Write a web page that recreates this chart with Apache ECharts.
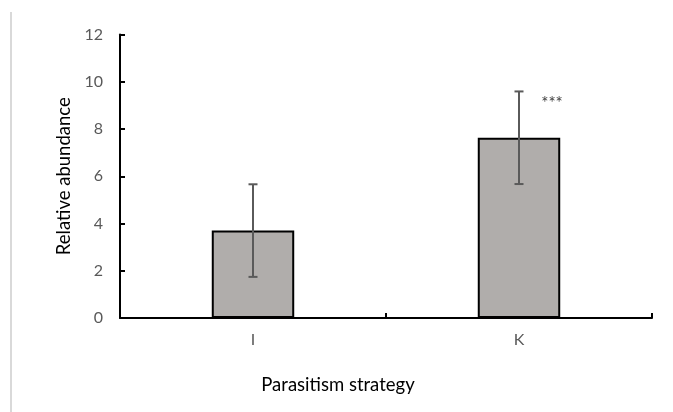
<!DOCTYPE html>
<html>
<head>
<meta charset="utf-8">
<script src="https://cdn.jsdelivr.net/npm/echarts@6/dist/echarts.min.js"></script>
<style>
html,body{margin:0;padding:0;background:#fff;}
#chart{width:673px;height:412px;}
</style>
</head>
<body>
<div id="chart"></div>
<script>
var categories = ['I', 'K'];
var means = [3.7, 7.63];
var errors = [1.96, 1.96];
var significance = ['', '***'];
var yTicks = [0, 2, 4, 6, 8, 10, 12];

var chart = echarts.init(document.getElementById('chart'), null, {renderer: 'canvas'});
var FONT = 'Lato, "Open Sans", sans-serif';

var errData = categories.map(function (c, i) { return [i, means[i], errors[i], significance[i]]; });

var option = {
  animation: false,
  backgroundColor: '#ffffff',
  grid: {left: 120, right: 21, top: 34.5, bottom: 94, containLabel: false},
  graphic: [{
    type: 'line',
    shape: {x1: 11, y1: 12, x2: 11, y2: 412},
    style: {stroke: '#d9d9d9', lineWidth: 2}
  }],
  xAxis: {
    type: 'category',
    data: categories,
    boundaryGap: true,
    name: 'Parasitism strategy',
    nameLocation: 'middle',
    nameGap: 58,
    nameTextStyle: {fontFamily: FONT, fontSize: 18.5, color: '#000000', padding: [0, 96, 0, 0]},
    axisLine: {show: true, lineStyle: {color: '#000000', width: 2}},
    axisTick: {show: true, inside: true, length: 5, lineStyle: {color: '#000000', width: 2}},
    axisLabel: {fontFamily: FONT, fontSize: 16, color: '#595959', margin: 14}
  },
  yAxis: {
    type: 'value',
    min: yTicks[0],
    max: yTicks[yTicks.length - 1],
    interval: 2,
    name: 'Relative abundance',
    nameLocation: 'middle',
    nameRotate: 90,
    nameGap: 42,
    nameTextStyle: {fontFamily: FONT, fontSize: 18.5, color: '#000000'},
    axisLine: {show: true, lineStyle: {color: '#000000', width: 2}},
    axisTick: {show: true, inside: true, length: 5, lineStyle: {color: '#000000', width: 2}},
    axisLabel: {fontFamily: FONT, fontSize: 16, color: '#595959', margin: 17},
    splitLine: {show: false}
  },
  series: [{
    type: 'bar',
    data: means,
    barWidth: '31%',
    itemStyle: {color: '#b0adab', borderColor: '#000000', borderWidth: 2},
    z: 2
  }, {
    type: 'custom',
    data: errData,
    z: 5,
    renderItem: function (params, api) {
      var idx = api.value(0);
      var m = api.value(1);
      var e = api.value(2);
      var sig = significance[params.dataIndex];
      var top = api.coord([idx, m + e]);
      var bot = api.coord([idx, m - e]);
      var cap = 4.5;
      var st = {stroke: '#5a5a5a', lineWidth: 2};
      var children = [
        {type: 'line', shape: {x1: top[0], y1: top[1], x2: bot[0], y2: bot[1]}, style: st},
        {type: 'line', shape: {x1: top[0] - cap, y1: top[1], x2: top[0] + cap, y2: top[1]}, style: st},
        {type: 'line', shape: {x1: bot[0] - cap, y1: bot[1], x2: bot[0] + cap, y2: bot[1]}, style: st}
      ];
      if (sig) {
        children.push({
          type: 'text',
          style: {x: top[0] + 33, y: top[1] + 12, text: sig, fill: '#404040',
                  font: '17px ' + FONT, textAlign: 'center', textVerticalAlign: 'middle'}
        });
      }
      return {type: 'group', children: children};
    }
  }]
};
chart.setOption(option);
</script>
</body>
</html>
